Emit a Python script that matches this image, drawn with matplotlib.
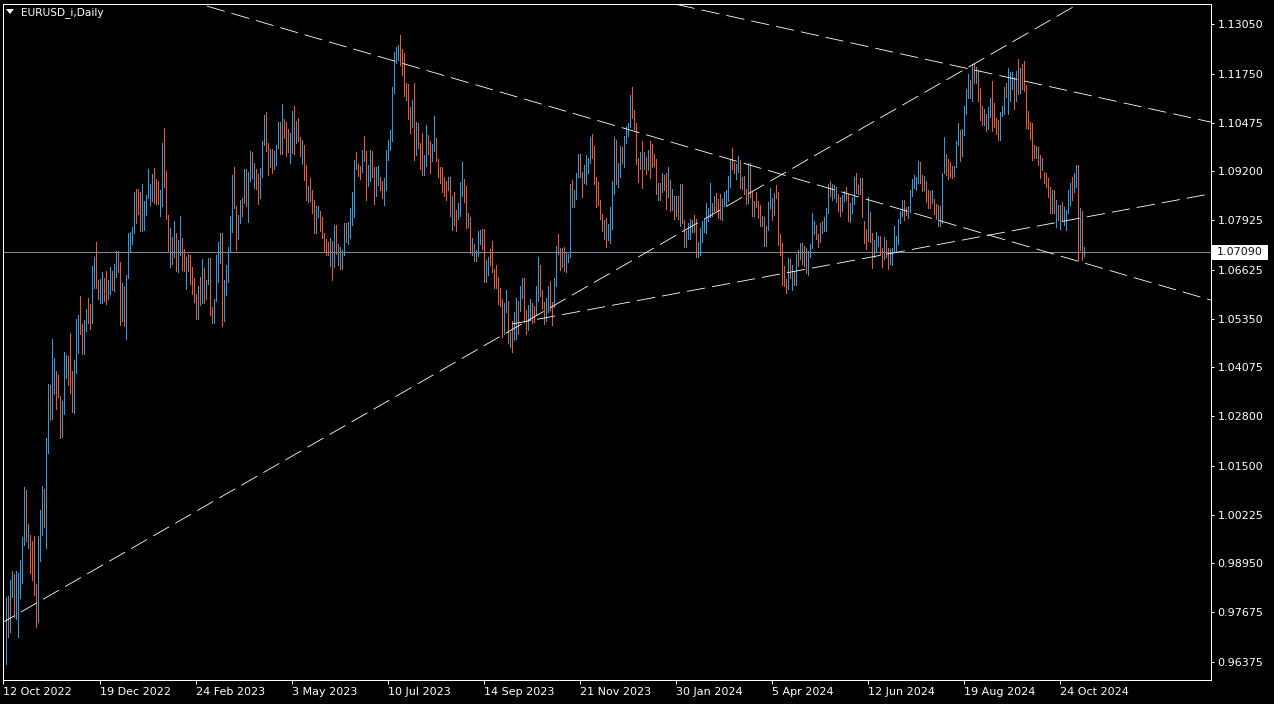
import numpy as np
import matplotlib
matplotlib.use('Agg')
import matplotlib.pyplot as plt
from matplotlib.patches import Polygon, Rectangle
from matplotlib.transforms import blended_transform_factory

# ---- data: EURUSD daily bars, 12 Oct 2022 .. 11 Nov 2024 (one line per month) ----
first_open = 0.9690

highs = [
    0.9737, 0.9807, 0.9811, 0.9851, 0.9876, 0.9867, 0.9875, 0.9871, 0.9905, 0.9965, 1.0094, 1.0088, 0.9998, 0.9970,  # Oct 22
    0.9954, 0.9967, 0.9841, 0.9967, 1.0035, 1.0097, 1.0090, 1.0222, 1.0365, 1.0362, 1.0481, 1.0433, 1.0397, 1.0387, 1.0333, 1.0319, 1.0448, 1.0440, 1.0437, 1.0497, 1.0398, 1.0428,  # Nov 22
    1.0534, 1.0545, 1.0595, 1.0521, 1.0532, 1.0561, 1.0589, 1.0574, 1.0673, 1.0695, 1.0736, 1.0636, 1.0639, 1.0658, 1.0640, 1.0660, 1.0635, 1.0670, 1.0659, 1.0677, 1.0713,  # Dec 22
    1.0712, 1.0683, 1.0628, 1.0620, 1.0650, 1.0760, 1.0761, 1.0775, 1.0867, 1.0874, 1.0874, 1.0867, 1.0888, 1.0843, 1.0859, 1.0927, 1.0888, 1.0914, 1.0929, 1.0900, 1.0895, 1.0872,  # Jan 23
    1.0993, 1.1033, 1.0922, 1.0805, 1.0773, 1.0748, 1.0790, 1.0760, 1.0740, 1.0804, 1.0745, 1.0716, 1.0696, 1.0705, 1.0701, 1.0670, 1.0640, 1.0600, 1.0620, 1.0645,  # Feb 23
    1.0691, 1.0668, 1.0637, 1.0694, 1.0694, 1.0565, 1.0587, 1.0701, 1.0735, 1.0760, 1.0760, 1.0637, 1.0675, 1.0722, 1.0803, 1.0911, 1.0930, 1.0830, 1.0806, 1.0845, 1.0850, 1.0926, 1.0925,  # Mar 23
    1.0918, 1.0973, 1.0970, 1.0941, 1.0925, 1.0914, 1.0928, 1.0998, 1.1067, 1.1075, 1.0994, 1.0979, 1.0979, 1.0972, 1.0990, 1.1049, 1.1049, 1.1095, 1.1058, 1.1049,  # Apr 23
    1.1030, 1.1020, 1.1078, 1.1092, 1.1052, 1.1060, 1.1010, 1.1002, 1.0988, 1.0937, 1.0881, 1.0903, 1.0871, 1.0845, 1.0829, 1.0830, 1.0817, 1.0800, 1.0760, 1.0744, 1.0736, 1.0746, 1.0738,  # May 23
    1.0780, 1.0779, 1.0730, 1.0722, 1.0715, 1.0785, 1.0785, 1.0788, 1.0823, 1.0865, 1.0950, 1.0970, 1.0940, 1.0935, 1.0977, 1.1012, 1.0972, 1.0937, 1.0976, 1.0974, 1.0930, 1.0932,  # Jun 23
    1.0934, 1.0905, 1.0895, 1.0902, 1.0975, 1.1002, 1.1028, 1.1140, 1.1232, 1.1245, 1.1250, 1.1276, 1.1240, 1.1229, 1.1151, 1.1148, 1.1088, 1.1106, 1.1151, 1.1049, 1.1046,  # Jul 23
    1.0994, 1.1020, 1.0963, 1.1041, 1.1015, 1.1000, 1.0991, 1.1065, 1.1006, 1.0952, 1.0930, 1.0930, 1.0905, 1.0895, 1.0904, 1.0906, 1.0856, 1.0866, 1.0820, 1.0837, 1.0893, 1.0945, 1.0900,  # Aug 23
    1.0882, 1.0810, 1.0800, 1.0745, 1.0730, 1.0715, 1.0765, 1.0766, 1.0768, 1.0768, 1.0688, 1.0697, 1.0718, 1.0737, 1.0664, 1.0675, 1.0645, 1.0614, 1.0586, 1.0575, 1.0610,  # Sep 23
    1.0580, 1.0500, 1.0530, 1.0553, 1.0588, 1.0580, 1.0620, 1.0640, 1.0640, 1.0558, 1.0570, 1.0586, 1.0575, 1.0567, 1.0620, 1.0695, 1.0675, 1.0610, 1.0578, 1.0588, 1.0620, 1.0633,  # Oct 23
    1.0578, 1.0640, 1.0725, 1.0756, 1.0720, 1.0720, 1.0723, 1.0706, 1.0705, 1.0887, 1.0896, 1.0872, 1.0915, 1.0965, 1.0965, 1.0917, 1.0937, 1.0963, 1.0955, 1.1010, 1.1017, 1.0985,  # Nov 23
    1.0905, 1.0893, 1.0844, 1.0808, 1.0794, 1.0797, 1.0782, 1.0826, 1.0894, 1.1009, 1.1003, 1.0943, 1.0985, 1.0984, 1.1012, 1.1039, 1.1045, 1.1119, 1.1140, 1.1079,  # Dec 23
    1.1045, 1.0956, 1.0971, 1.0998, 1.0971, 1.0957, 1.0975, 1.0998, 1.0991, 1.0966, 1.0953, 1.0890, 1.0890, 1.0915, 1.0911, 1.0915, 1.0932, 1.0898, 1.0873, 1.0855, 1.0856, 1.0855,  # Jan 24
    1.0888, 1.0888, 1.0792, 1.0765, 1.0785, 1.0795, 1.0794, 1.0805, 1.0795, 1.0734, 1.0771, 1.0789, 1.0795, 1.0838, 1.0825, 1.0889, 1.0836, 1.0856, 1.0864, 1.0848, 1.0860,  # Feb 24
    1.0847, 1.0865, 1.0870, 1.0908, 1.0951, 1.0981, 1.0944, 1.0940, 1.0959, 1.0950, 1.0906, 1.0908, 1.0874, 1.0942, 1.0942, 1.0868, 1.0842, 1.0865, 1.0842, 1.0833, 1.0803,  # Mar 24
    1.0800, 1.0777, 1.0839, 1.0876, 1.0849, 1.0863, 1.0885, 1.0865, 1.0756, 1.0732, 1.0673, 1.0638, 1.0693, 1.0690, 1.0675, 1.0660, 1.0705, 1.0715, 1.0733, 1.0733, 1.0724, 1.0720,  # Apr 24
    1.0713, 1.0730, 1.0812, 1.0790, 1.0780, 1.0757, 1.0785, 1.0790, 1.0800, 1.0824, 1.0888, 1.0895, 1.0887, 1.0885, 1.0879, 1.0862, 1.0854, 1.0857, 1.0868, 1.0880, 1.0860, 1.0838, 1.0853,  # May 24
    1.0904, 1.0916, 1.0885, 1.0902, 1.0902, 1.0790, 1.0770, 1.0852, 1.0814, 1.0760, 1.0740, 1.0761, 1.0752, 1.0750, 1.0720, 1.0748, 1.0740, 1.0720, 1.0717, 1.0720,  # Jun 24
    1.0776, 1.0750, 1.0795, 1.0816, 1.0845, 1.0845, 1.0826, 1.0830, 1.0871, 1.0900, 1.0910, 1.0906, 1.0948, 1.0945, 1.0910, 1.0907, 1.0895, 1.0870, 1.0869, 1.0871, 1.0848, 1.0835, 1.0831,  # Jul 24
    1.0830, 1.0915, 1.1009, 1.0964, 1.0951, 1.0945, 1.0935, 1.0935, 1.1000, 1.1047, 1.1027, 1.1030, 1.1090, 1.1135, 1.1174, 1.1159, 1.1201, 1.1202, 1.1192, 1.1185, 1.1139, 1.1090,  # Aug 24
    1.1082, 1.1070, 1.1089, 1.1111, 1.1155, 1.1098, 1.1060, 1.1055, 1.1075, 1.1092, 1.1140, 1.1150, 1.1190, 1.1180, 1.1180, 1.1167, 1.1182, 1.1214, 1.1190, 1.1200, 1.1209,  # Sep 24
    1.1145, 1.1077, 1.1049, 1.1046, 1.0990, 1.0985, 1.0984, 1.0962, 1.0955, 1.0918, 1.0916, 1.0902, 1.0879, 1.0871, 1.0871, 1.0845, 1.0832, 1.0832, 1.0840, 1.0827, 1.0819, 1.0871, 1.0889,  # Oct 24
    1.0906, 1.0915, 1.0937, 1.0937, 1.0823, 1.0815, 1.0723,  # Nov 24
]

lows = [
    0.9669, 0.9632, 0.9703, 0.9716, 0.9807, 0.9755, 0.9750, 0.9703, 0.9805, 0.9844, 0.9943, 0.9955, 0.9935, 0.9870,  # Oct 22
    0.9853, 0.9813, 0.9729, 0.9742, 0.9901, 0.9969, 0.9990, 0.9935, 1.0184, 1.0270, 1.0273, 1.0339, 1.0300, 1.0329, 1.0223, 1.0225, 1.0285, 1.0380, 1.0362, 1.0340, 1.0291, 1.0289,  # Nov 22
    1.0393, 1.0445, 1.0496, 1.0443, 1.0442, 1.0503, 1.0524, 1.0509, 1.0523, 1.0614, 1.0615, 1.0585, 1.0576, 1.0576, 1.0581, 1.0574, 1.0586, 1.0600, 1.0609, 1.0608, 1.0645,  # Dec 22
    1.0656, 1.0519, 1.0528, 1.0515, 1.0483, 1.0640, 1.0713, 1.0729, 1.0759, 1.0786, 1.0808, 1.0765, 1.0765, 1.0767, 1.0805, 1.0849, 1.0833, 1.0843, 1.0837, 1.0834, 1.0834, 1.0802,  # Jan 23
    1.0829, 1.0880, 1.0796, 1.0710, 1.0669, 1.0678, 1.0695, 1.0660, 1.0656, 1.0700, 1.0661, 1.0659, 1.0613, 1.0660, 1.0626, 1.0600, 1.0578, 1.0533, 1.0535, 1.0570,  # Feb 23
    1.0575, 1.0577, 1.0585, 1.0625, 1.0545, 1.0524, 1.0523, 1.0582, 1.0630, 1.0680, 1.0516, 1.0528, 1.0598, 1.0631, 1.0713, 1.0762, 1.0823, 1.0714, 1.0743, 1.0785, 1.0803, 1.0836, 1.0830,  # Mar 23
    1.0788, 1.0895, 1.0902, 1.0877, 1.0874, 1.0834, 1.0850, 1.0905, 1.0990, 1.0974, 1.0910, 1.0930, 1.0915, 1.0925, 1.0937, 1.0981, 1.0964, 1.0966, 1.1008, 1.0960,  # Apr 23
    1.0970, 1.0942, 1.0969, 1.0966, 1.0995, 1.1000, 1.0961, 1.0940, 1.0898, 1.0845, 1.0840, 1.0842, 1.0811, 1.0759, 1.0759, 1.0801, 1.0763, 1.0747, 1.0711, 1.0702, 1.0700, 1.0672, 1.0635,  # May 23
    1.0670, 1.0704, 1.0675, 1.0666, 1.0665, 1.0700, 1.0734, 1.0730, 1.0745, 1.0779, 1.0801, 1.0925, 1.0908, 1.0900, 1.0917, 1.0946, 1.0844, 1.0881, 1.0894, 1.0905, 1.0834, 1.0855,  # Jun 23
    1.0885, 1.0870, 1.0850, 1.0833, 1.0871, 1.0950, 1.0976, 1.0999, 1.1124, 1.1203, 1.1211, 1.1198, 1.1172, 1.1117, 1.1106, 1.1057, 1.1020, 1.1035, 1.0950, 1.0963, 1.0982,  # Jul 23
    1.0926, 1.0911, 1.0910, 1.0935, 1.0965, 1.0915, 1.0947, 1.0974, 1.0948, 1.0905, 1.0890, 1.0865, 1.0855, 1.0845, 1.0870, 1.0803, 1.0766, 1.0780, 1.0765, 1.0796, 1.0804, 1.0855, 1.0840,  # Aug 23
    1.0772, 1.0775, 1.0707, 1.0702, 1.0686, 1.0686, 1.0698, 1.0730, 1.0718, 1.0631, 1.0632, 1.0650, 1.0675, 1.0658, 1.0616, 1.0616, 1.0573, 1.0567, 1.0488, 1.0495, 1.0552,  # Sep 23
    1.0470, 1.0460, 1.0448, 1.0480, 1.0482, 1.0495, 1.0554, 1.0590, 1.0525, 1.0495, 1.0505, 1.0531, 1.0523, 1.0525, 1.0545, 1.0580, 1.0593, 1.0560, 1.0522, 1.0530, 1.0553, 1.0557,  # Oct 23
    1.0518, 1.0565, 1.0620, 1.0705, 1.0663, 1.0670, 1.0660, 1.0656, 1.0682, 1.0696, 1.0828, 1.0826, 1.0847, 1.0905, 1.0905, 1.0852, 1.0890, 1.0888, 1.0916, 1.0943, 1.0955, 1.0888,  # Nov 23
    1.0828, 1.0831, 1.0796, 1.0763, 1.0744, 1.0723, 1.0740, 1.0733, 1.0770, 1.0860, 1.0886, 1.0880, 1.0904, 1.0941, 1.0932, 1.0995, 1.1011, 1.1037, 1.1060, 1.1030,  # Dec 23
    1.0939, 1.0893, 1.0927, 1.0876, 1.0925, 1.0912, 1.0924, 1.0902, 1.0930, 1.0934, 1.0862, 1.0845, 1.0844, 1.0865, 1.0870, 1.0822, 1.0852, 1.0815, 1.0818, 1.0796, 1.0802, 1.0795,  # Jan 24
    1.0778, 1.0785, 1.0722, 1.0723, 1.0742, 1.0744, 1.0761, 1.0761, 1.0695, 1.0695, 1.0701, 1.0735, 1.0762, 1.0760, 1.0790, 1.0800, 1.0803, 1.0817, 1.0820, 1.0797, 1.0796,  # Feb 24
    1.0794, 1.0830, 1.0832, 1.0843, 1.0879, 1.0925, 1.0916, 1.0899, 1.0918, 1.0877, 1.0874, 1.0862, 1.0835, 1.0838, 1.0852, 1.0803, 1.0802, 1.0827, 1.0798, 1.0776, 1.0778,  # Mar 24
    1.0724, 1.0724, 1.0766, 1.0825, 1.0792, 1.0805, 1.0850, 1.0728, 1.0700, 1.0622, 1.0620, 1.0601, 1.0612, 1.0642, 1.0610, 1.0624, 1.0623, 1.0672, 1.0690, 1.0679, 1.0672, 1.0655,  # Apr 24
    1.0650, 1.0695, 1.0719, 1.0755, 1.0742, 1.0723, 1.0735, 1.0760, 1.0765, 1.0765, 1.0810, 1.0855, 1.0844, 1.0850, 1.0840, 1.0817, 1.0804, 1.0815, 1.0843, 1.0846, 1.0791, 1.0788, 1.0810,  # May 24
    1.0834, 1.0864, 1.0860, 1.0860, 1.0800, 1.0733, 1.0718, 1.0738, 1.0735, 1.0668, 1.0695, 1.0710, 1.0725, 1.0700, 1.0671, 1.0690, 1.0695, 1.0665, 1.0677, 1.0676,  # Jun 24
    1.0710, 1.0710, 1.0730, 1.0785, 1.0803, 1.0792, 1.0805, 1.0797, 1.0813, 1.0855, 1.0877, 1.0870, 1.0890, 1.0890, 1.0868, 1.0870, 1.0840, 1.0825, 1.0825, 1.0838, 1.0808, 1.0795, 1.0777,  # Jul 24
    1.0777, 1.0785, 1.0915, 1.0910, 1.0900, 1.0905, 1.0903, 1.0909, 1.0930, 1.0990, 1.0947, 1.0960, 1.1015, 1.1069, 1.1111, 1.1111, 1.1105, 1.1152, 1.1150, 1.1103, 1.1054, 1.1040,  # Aug 24
    1.1040, 1.1026, 1.1030, 1.1063, 1.1026, 1.1037, 1.1018, 1.1001, 1.1002, 1.1064, 1.1070, 1.1113, 1.1069, 1.1105, 1.1136, 1.1082, 1.1103, 1.1121, 1.1125, 1.1135, 1.1131,  # Sep 24
    1.1034, 1.1031, 1.1005, 1.0950, 1.0954, 1.0955, 1.0936, 1.0903, 1.0923, 1.0890, 1.0879, 1.0853, 1.0811, 1.0811, 1.0811, 1.0775, 1.0793, 1.0770, 1.0793, 1.0779, 1.0767, 1.0811, 1.0832,  # Oct 24
    1.0845, 1.0866, 1.0880, 1.0688, 1.0714, 1.0688, 1.0698,  # Nov 24
]

closes = [
    0.9703, 0.9779, 0.9723, 0.9838, 0.9858, 0.9773, 0.9782, 0.9863, 0.9876, 0.9963, 1.0079, 0.9964, 0.9966, 0.9883,  # Oct 22
    0.9875, 0.9819, 0.9750, 0.9960, 1.0019, 1.0075, 1.0013, 1.0208, 1.0356, 1.0326, 1.0350, 1.0393, 1.0362, 1.0325, 1.0241, 1.0303, 1.0395, 1.0405, 1.0402, 1.0342, 1.0330, 1.0405,  # Nov 22
    1.0524, 1.0535, 1.0490, 1.0465, 1.0508, 1.0556, 1.0538, 1.0537, 1.0629, 1.0685, 1.0627, 1.0587, 1.0607, 1.0623, 1.0605, 1.0593, 1.0615, 1.0637, 1.0612, 1.0661, 1.0704,  # Dec 22
    1.0665, 1.0545, 1.0608, 1.0520, 1.0645, 1.0733, 1.0753, 1.0762, 1.0852, 1.0830, 1.0820, 1.0790, 1.0795, 1.0831, 1.0855, 1.0870, 1.0886, 1.0915, 1.0890, 1.0867, 1.0848, 1.0863,  # Jan 23
    1.0989, 1.0905, 1.0796, 1.0726, 1.0727, 1.0712, 1.0740, 1.0678, 1.0723, 1.0738, 1.0687, 1.0673, 1.0694, 1.0685, 1.0648, 1.0605, 1.0597, 1.0545, 1.0606, 1.0576,  # Feb 23
    1.0668, 1.0596, 1.0633, 1.0682, 1.0548, 1.0546, 1.0580, 1.0640, 1.0732, 1.0733, 1.0575, 1.0609, 1.0668, 1.0718, 1.0771, 1.0858, 1.0831, 1.0760, 1.0800, 1.0843, 1.0842, 1.0904, 1.0839,  # Mar 23
    1.0902, 1.0955, 1.0905, 1.0920, 1.0905, 1.0862, 1.0915, 1.0992, 1.1045, 1.0992, 1.0929, 1.0973, 1.0958, 1.0966, 1.0989, 1.1045, 1.0974, 1.1043, 1.1026, 1.1019,  # Apr 23
    1.0976, 1.0995, 1.1070, 1.1014, 1.1019, 1.1005, 1.0963, 1.0982, 1.0914, 1.0849, 1.0872, 1.0862, 1.0842, 1.0770, 1.0804, 1.0814, 1.0769, 1.0752, 1.0726, 1.0722, 1.0705, 1.0735, 1.0688,  # May 23
    1.0762, 1.0707, 1.0712, 1.0694, 1.0698, 1.0780, 1.0749, 1.0753, 1.0793, 1.0832, 1.0944, 1.0940, 1.0921, 1.0920, 1.0981, 1.0958, 1.0894, 1.0905, 1.0962, 1.0912, 1.0867, 1.0908,  # Jun 23
    1.0912, 1.0881, 1.0855, 1.0890, 1.0968, 1.0971, 1.1008, 1.1129, 1.1226, 1.1228, 1.1238, 1.1226, 1.1200, 1.1129, 1.1124, 1.1065, 1.1056, 1.1087, 1.0976, 1.1017, 1.0998,  # Jul 23
    1.0985, 1.0940, 1.0945, 1.1007, 1.1003, 1.0957, 1.0973, 1.0980, 1.0948, 1.0908, 1.0905, 1.0874, 1.0872, 1.0872, 1.0895, 1.0845, 1.0863, 1.0810, 1.0796, 1.0819, 1.0878, 1.0925, 1.0842,  # Aug 23
    1.0773, 1.0795, 1.0720, 1.0725, 1.0696, 1.0698, 1.0750, 1.0755, 1.0730, 1.0642, 1.0656, 1.0690, 1.0678, 1.0660, 1.0659, 1.0645, 1.0594, 1.0571, 1.0502, 1.0565, 1.0573,  # Sep 23
    1.0475, 1.0490, 1.0482, 1.0549, 1.0587, 1.0565, 1.0605, 1.0620, 1.0530, 1.0510, 1.0560, 1.0575, 1.0545, 1.0532, 1.0594, 1.0670, 1.0590, 1.0565, 1.0563, 1.0566, 1.0615, 1.0575,  # Oct 23
    1.0570, 1.0620, 1.0720, 1.0719, 1.0695, 1.0710, 1.0670, 1.0685, 1.0700, 1.0878, 1.0850, 1.0851, 1.0915, 1.0942, 1.0910, 1.0887, 1.0902, 1.0940, 1.0953, 1.0993, 1.0969, 1.0890,  # Nov 23
    1.0883, 1.0836, 1.0797, 1.0764, 1.0793, 1.0761, 1.0765, 1.0794, 1.0877, 1.0990, 1.0896, 1.0922, 1.0980, 1.0942, 1.1010, 1.1011, 1.1042, 1.1106, 1.1060, 1.1038,  # Dec 23
    1.0943, 1.0922, 1.0948, 1.0941, 1.0950, 1.0929, 1.0973, 1.0970, 1.0951, 1.0949, 1.0878, 1.0882, 1.0874, 1.0897, 1.0891, 1.0855, 1.0884, 1.0841, 1.0852, 1.0833, 1.0845, 1.0818,  # Jan 24
    1.0873, 1.0790, 1.0742, 1.0755, 1.0772, 1.0780, 1.0785, 1.0771, 1.0708, 1.0727, 1.0772, 1.0778, 1.0779, 1.0808, 1.0821, 1.0823, 1.0821, 1.0850, 1.0845, 1.0838, 1.0805,  # Feb 24
    1.0838, 1.0855, 1.0856, 1.0900, 1.0947, 1.0938, 1.0927, 1.0928, 1.0948, 1.0883, 1.0887, 1.0867, 1.0865, 1.0924, 1.0860, 1.0808, 1.0838, 1.0832, 1.0822, 1.0790, 1.0791,  # Mar 24
    1.0742, 1.0770, 1.0835, 1.0836, 1.0834, 1.0860, 1.0857, 1.0741, 1.0726, 1.0642, 1.0625, 1.0617, 1.0672, 1.0644, 1.0656, 1.0655, 1.0702, 1.0696, 1.0727, 1.0693, 1.0718, 1.0665,  # Apr 24
    1.0712, 1.0727, 1.0761, 1.0770, 1.0753, 1.0747, 1.0782, 1.0771, 1.0790, 1.0818, 1.0880, 1.0866, 1.0870, 1.0856, 1.0857, 1.0822, 1.0817, 1.0847, 1.0860, 1.0858, 1.0801, 1.0832, 1.0848,  # May 24
    1.0900, 1.0877, 1.0867, 1.0891, 1.0801, 1.0766, 1.0742, 1.0816, 1.0740, 1.0702, 1.0735, 1.0740, 1.0745, 1.0703, 1.0692, 1.0734, 1.0713, 1.0682, 1.0701, 1.0713,  # Jun 24
    1.0740, 1.0743, 1.0789, 1.0810, 1.0840, 1.0825, 1.0813, 1.0828, 1.0865, 1.0890, 1.0895, 1.0896, 1.0938, 1.0897, 1.0884, 1.0891, 1.0848, 1.0845, 1.0843, 1.0855, 1.0819, 1.0814, 1.0825,  # Jul 24
    1.0789, 1.0910, 1.0955, 1.0930, 1.0925, 1.0920, 1.0915, 1.0931, 1.0992, 1.1013, 1.0966, 1.1027, 1.1086, 1.1130, 1.1152, 1.1113, 1.1192, 1.1162, 1.1183, 1.1120, 1.1077, 1.1047,  # Aug 24
    1.1063, 1.1046, 1.1081, 1.1111, 1.1088, 1.1040, 1.1026, 1.1012, 1.1070, 1.1075, 1.1133, 1.1115, 1.1117, 1.1161, 1.1163, 1.1112, 1.1180, 1.1133, 1.1176, 1.1163, 1.1135,  # Sep 24
    1.1068, 1.1046, 1.1032, 1.0975, 1.0974, 1.0979, 1.0941, 1.0930, 1.0937, 1.0910, 1.0890, 1.0862, 1.0833, 1.0866, 1.0817, 1.0820, 1.0800, 1.0827, 1.0797, 1.0815, 1.0818, 1.0856, 1.0883,  # Oct 24
    1.0850, 1.0880, 1.0930, 1.0730, 1.0800, 1.0705, 1.0709,  # Nov 24
]

last_price = 1.07090
price_ticks = [1.13050, 1.11750, 1.10475, 1.09200, 1.07925, 1.06625, 1.05350,
               1.04075, 1.02800, 1.01500, 1.00225, 0.98950, 0.97675, 0.96375]
date_labels = ['12 Oct 2022', '19 Dec 2022', '24 Feb 2023', '3 May 2023', '10 Jul 2023',
               '14 Sep 2023', '21 Nov 2023', '30 Jan 2024', '5 Apr 2024', '12 Jun 2024',
               '19 Aug 2024', '24 Oct 2024']
date_bars = [0, 48, 96, 144, 192, 240, 288, 336, 384, 432, 480, 528]

# trend lines: two anchor points (bar index, price); 'ray' = extend only to the right
trend_lines = [
    ((0.0, 0.9742), (537.3, 1.1357), False),
    ((98.3, 1.1357), (603.3, 1.0584), False),
    ((335.8, 1.1357), (603.3, 1.1049), False),
    ((254.3, 1.0521), (603.3, 1.0861), True),
]

assert len(highs) == len(lows) == len(closes)

W, H = 1274, 704
fig = plt.figure(figsize=(W / 100, H / 100), dpi=100, facecolor='black')
ax = fig.add_axes([3 / W, 24 / H, 1208 / W, 676 / H])
ax.set_facecolor('black')

highs = np.array(highs)
lows = np.array(lows)
closes = np.array(closes)
opens = np.concatenate([[first_open], closes[:-1]])
x = np.arange(len(closes))
up = closes > opens

blue = '#1ea3e6'
orange = '#ef5a23'
ax.vlines(x[up], lows[up], highs[up], colors=blue, linewidth=0.5, antialiased=False, zorder=2)
ax.vlines(x[~up], lows[~up], highs[~up], colors=orange, linewidth=0.5, antialiased=False, zorder=2)

# current price line
ax.axhline(last_price, color='#7b8b9b', linewidth=0.5, antialiased=False, zorder=1)

# trend lines (thin, long dashes like the terminal's STYLE_DASH)
for (b0, p0), (b1, p1), ray in trend_lines:
    slope = (p1 - p0) / (b1 - b0)
    xs = np.array([b0 if ray else -5, 610])
    ys = p0 + slope * (xs - b0)
    ax.plot(xs, ys, color='white', linewidth=0.6, linestyle=(0, (22, 8.5)),
            antialiased=True, zorder=3)

ax.set_xlim(-0.25, 603.75)
ax.set_ylim(0.95905, 1.13573)

for s in ax.spines.values():
    s.set_color('white')
    s.set_linewidth(0.72)

ax.yaxis.tick_right()
ax.set_yticks(price_ticks)
ax.set_yticklabels([f'{p:.5f}' for p in price_ticks])
ax.tick_params(axis='y', colors='white', length=2.2, width=0.72, pad=2.6, labelsize=8)

ax.set_xticks(date_bars)
ax.set_xticklabels(date_labels, ha='left')
ax.tick_params(axis='x', colors='white', length=3, width=0.72, pad=1.8, labelsize=8)

# price label box on the right axis
tr = blended_transform_factory(fig.transFigure, ax.transData)
box_h = 15 / 3826
ax.add_artist(Rectangle((1212 / W, last_price - box_h / 2), 56 / W, box_h, transform=tr,
                        facecolor='white', edgecolor='none', clip_on=False, zorder=5))
ax.text(1216.5 / W, last_price, f'{last_price:.5f}', transform=tr, ha='left', va='center',
        color='#101020', fontsize=8, clip_on=False, zorder=6)

# symbol caption at top left
fig.add_artist(Polygon([(6 / W, 1 - 9 / H), (14 / W, 1 - 9 / H), (10 / W, 1 - 14 / H)],
                       closed=True, transform=fig.transFigure, facecolor='white', edgecolor='none'))
fig.text(21 / W, 1 - 12.5 / H, 'EURUSD_i,Daily', color='white', fontsize=7.6,
         ha='left', va='center')

fig.savefig('out.png', dpi=100, facecolor='black')
